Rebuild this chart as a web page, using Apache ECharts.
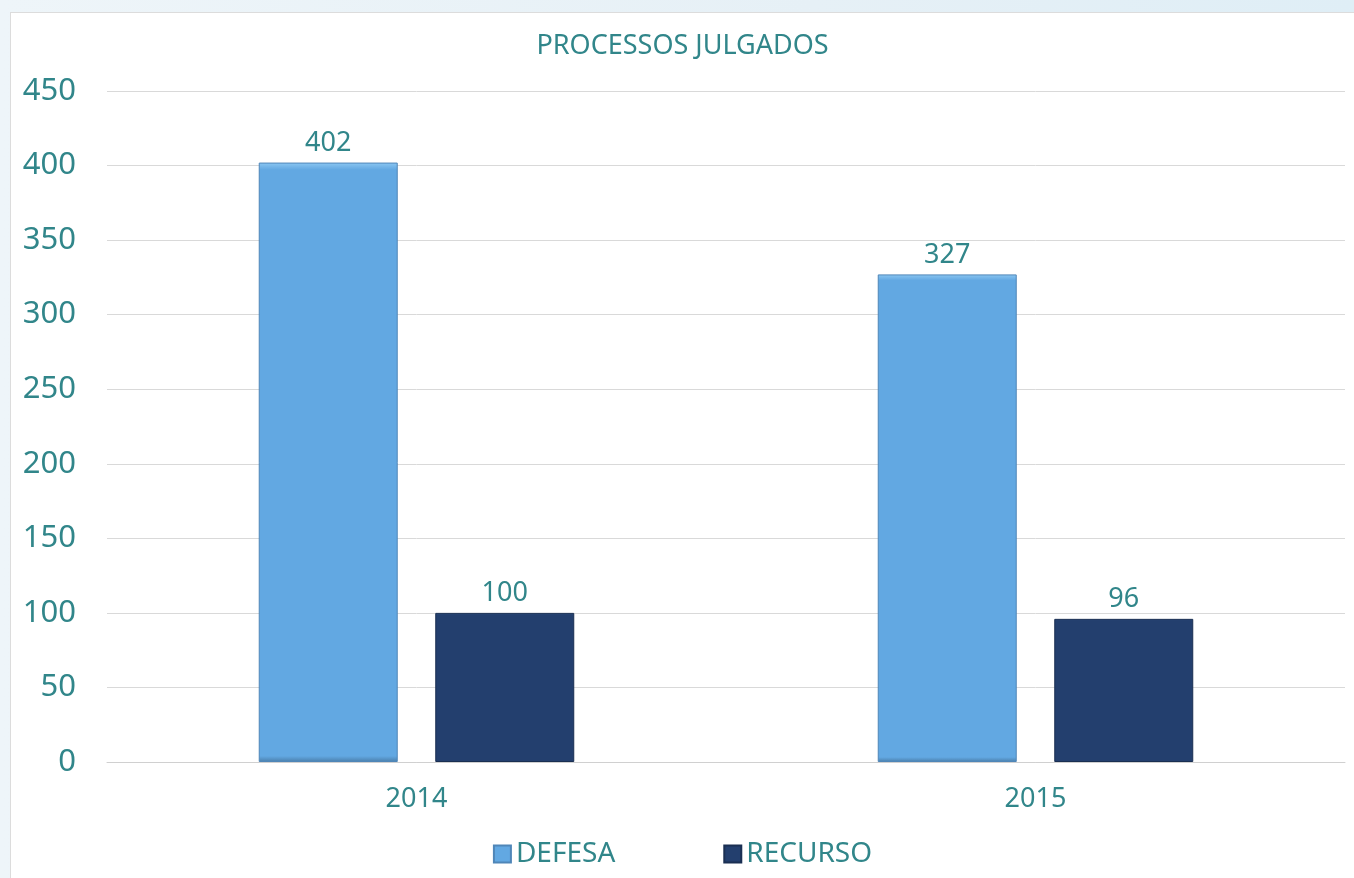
<!DOCTYPE html>
<html>
<head>
<meta charset="utf-8">
<script src="https://cdn.jsdelivr.net/npm/echarts@6/dist/echarts.min.js"></script>
<style>
  html, body { margin: 0; padding: 0; width: 1354px; height: 878px; overflow: hidden;
    background: linear-gradient(90deg, #eef5f9 0%, #e6f0f6 60%, #dfeef6 100%); }
  #main { position: absolute; left: 10px; top: 12px; width: 1344px; height: 866px;
    background: #fff; border-left: 1px solid #dcdcdc; border-top: 1px solid #dcdcdc; box-sizing: border-box; }
</style>
</head>
<body>
<div id="main"></div>
<script>
var categories = ['2014', '2015'];
var defesa = [402, 327];
var recurso = [100, 96];
var seriesNames = ['DEFESA', 'RECURSO'];

var teal = '#31868a';
var font = 'Noto Sans';

// faux bevel: lighter top edge, darker bottom edge
function bevel(top, mid, bottom) {
    return new echarts.graphic.LinearGradient(0, 0, 0, 1, [
        { offset: 0, color: top },
        { offset: 0.012, color: mid },
        { offset: 0.99, color: mid },
        { offset: 1, color: bottom }
    ]);
}

var myChart = echarts.init(document.getElementById('main'));
myChart.setOption({
    textStyle: { fontFamily: font },
    title: {
        text: 'PROCESSOS JULGADOS',
        left: 'center',
        top: 15,
        textStyle: { color: teal, fontSize: 27, fontWeight: 'normal', fontFamily: font }
    },
    legend: {
        data: seriesNames,
        bottom: 5,
        left: 'center',
        icon: 'rect',
        itemWidth: 17,
        itemHeight: 17,
        itemGap: 108,
        textStyle: { color: teal, fontSize: 28, fontFamily: font }
    },
    grid: { left: 96, right: 9, top: 78, bottom: 116, containLabel: false },
    xAxis: {
        type: 'category',
        data: categories,
        axisLine: { lineStyle: { color: '#d0d0d0', width: 1 } },
        axisTick: { show: false },
        axisLabel: { color: teal, fontSize: 27, margin: 24, fontFamily: font }
    },
    yAxis: {
        type: 'value',
        min: 0,
        max: 450,
        interval: 50,
        axisLine: { show: false },
        axisTick: { show: false },
        splitLine: { lineStyle: { color: '#d9d9d9', width: 1 } },
        axisLabel: { color: teal, fontSize: 31, margin: 31, fontFamily: font }
    },
    series: [{
        name: seriesNames[0],
        type: 'bar',
        data: defesa,
        barWidth: 139,
        barGap: '27%',
        itemStyle: {
            color: bevel('#8cc7f2', '#62a8e2', '#4a7eaa'),
            borderColor: '#4f86b8',
            borderWidth: 1
        },
        label: { show: true, position: 'top', distance: 6, color: teal, fontSize: 27, fontFamily: font }
    }, {
        name: seriesNames[1],
        type: 'bar',
        data: recurso,
        barWidth: 139,
        itemStyle: {
            color: bevel('#3b5b8c', '#233f6e', '#142642'),
            borderColor: '#1a2f52',
            borderWidth: 1
        },
        label: { show: true, position: 'top', distance: 6, color: teal, fontSize: 27, fontFamily: font }
    }]
});
</script>
</body>
</html>
